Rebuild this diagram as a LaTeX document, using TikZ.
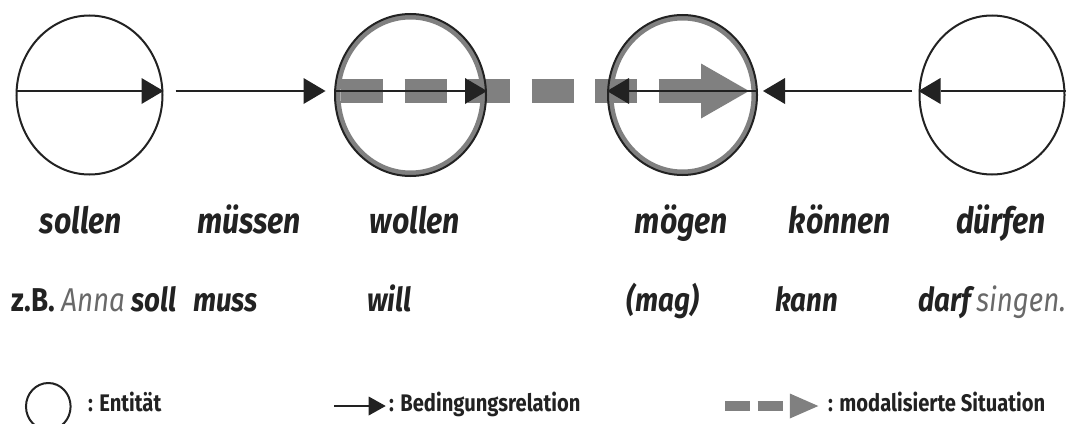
\documentclass[tikz,border=0pt]{standalone}
\usepackage{fontspec}
\setmainfont{Fira Sans}[FakeStretch=0.84]
\usetikzlibrary{arrows.meta,shapes.geometric,backgrounds}
\definecolor{ink}{RGB}{34,34,34}
\definecolor{modalgray}{RGB}{128,128,128}
\definecolor{textgray}{RGB}{105,105,105}
\begin{document}
\begin{tikzpicture}[x=1pt,y=-1pt,
  entity/.style={ellipse, draw=ink, line width=2pt, inner sep=0pt},
  ring/.style={ellipse, draw=modalgray, line width=5pt, inner sep=0pt},
  rel/.style={draw=ink, line width=2.6pt, -{Triangle[length=22pt,width=26pt,line width=0pt 0 0]}},
  relsmall/.style={draw=ink, line width=2.2pt, -{Triangle[length=17pt,width=19pt,line width=0pt 0 0]}},
  modal/.style={draw=modalgray, line width=23.5pt, dash pattern=on 42pt off 21.5pt, -{Triangle[length=48pt,width=55pt,line width=0pt 0 0]}},
  modalsmall/.style={draw=modalgray, line width=9.5pt, dash pattern=on 25pt off 7.5pt, -{Triangle[length=28.5pt,width=25pt,line width=0pt 0 0]}},
  verb/.style={font=\fontsize{36}{40}\selectfont\bfseries\itshape, text=ink, anchor=base, inner sep=0pt},
  ex/.style={font=\fontsize{33}{36}\selectfont\bfseries\itshape, text=ink, anchor=base west, inner sep=0pt},
  legend/.style={font=\fontsize{24}{28}\selectfont\bfseries, text=ink, anchor=base west, inner sep=0pt}
]
\useasboundingbox (0,0) rectangle (1067,423);

% entities
\node[entity, minimum width=146pt, minimum height=159pt] (c1) at (89.5,95) {};
\node[ring, minimum width=145pt, minimum height=156pt] (r2) at (410.5,95) {};
\node[entity, minimum width=151pt, minimum height=162pt] (c2) at (410.5,95) {};
\node[ring, minimum width=143pt, minimum height=154pt] (r3) at (682.5,95) {};
\node[entity, minimum width=149pt, minimum height=160pt] (c3) at (682.5,95) {};
\node[entity, minimum width=145pt, minimum height=159pt] (c4) at (992,95) {};

% white page and modalised situation (behind the circles)
\begin{scope}[on background layer]
\fill[white] (0,0) rectangle (1067,423);
\draw[modal, shorten <=7pt, shorten >=9pt] ([yshift=4pt]c2.west) -- ([yshift=4pt]c3.east);
\end{scope}

% conditioning relations
\draw[rel] ([yshift=4pt]c1.west) -- ([yshift=4pt]c1.east);
\draw[rel, shorten <=12pt, shorten >=8.5pt] ([yshift=4pt]c1.east) -- ([yshift=4pt]c2.west);
\draw[rel] ([yshift=4pt]c2.west) -- ([yshift=4pt]c2.east);
\draw[rel] ([yshift=4pt]c3.east) -- ([yshift=4pt]c3.west);
\draw[rel, shorten <=6.5pt, shorten >=5pt] ([yshift=4pt]c4.west) -- ([yshift=4pt]c3.east);
\draw[rel] ([yshift=4pt]c4.east) -- ([yshift=4pt]c4.west);

% modal verbs
\node[verb] (sollen) at (81,233) {sollen};
\node[verb] (muessen) at (249,233) {müssen};
\node[verb] (wollen) at (415,233) {wollen};
\node[verb] (moegen) at (681.5,233) {mögen};
\node[verb] (koennen) at (840,233) {können};
\node[verb] (duerfen) at (1001,233) {dürfen};

% example
\node[ex] (e1) at (11.7,311.7) {{\upshape z.B.} {\mdseries\color{textgray}Anna} soll};
\node[ex] (e2) at (193,311.7) {muss};
\node[ex] (e3) at (367,311.7) {will};
\node[ex] (e4) at (626.7,311.7) {(mag)};
\node[ex] (e5) at (775,311.7) {kann};
\node[ex] (e6) at (918,311.7) {darf\,{\mdseries\color{textgray}singen.}};

% legend
\node[entity, minimum width=44.6pt, minimum height=47pt] (lc) at (48.3,406.5) {};
\node[legend] (l1) at (88,411) {: Entität};
\coordinate (la1) at (334,406);
\coordinate (la2) at (385.7,406);
\draw[relsmall] (la1) -- (la2);
\node[legend] (l2) at (389,411) {: Bedingungsrelation};
\coordinate (lm1) at (725,406);
\coordinate (lm2) at (818.3,406);
\draw[modalsmall] (lm1) -- (lm2);
\node[legend] (l3) at (828,411) {: modalisierte Situation};
\end{tikzpicture}
\end{document}
